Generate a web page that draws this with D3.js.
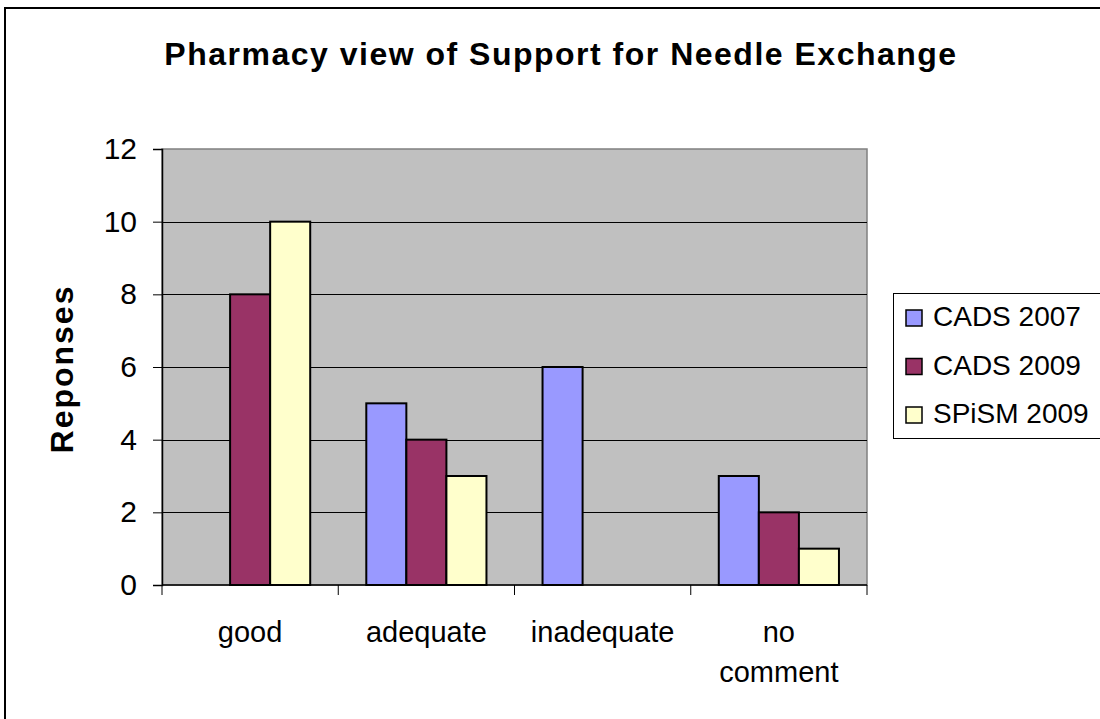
<!DOCTYPE html>
<html>
<head>
<meta charset="utf-8">
<script src="https://cdn.jsdelivr.net/npm/d3@7"></script>
<style>
  html, body { margin: 0; padding: 0; background: #fff; }
  svg { display: block; font-family: "Liberation Sans", Arial, sans-serif; }
</style>
</head>
<body>
<svg id="chart" width="1100" height="719"></svg>
<script>
const categories = ["good", "adequate", "inadequate", "no comment"];
const seriesNames = ["CADS 2007", "CADS 2009", "SPiSM 2009"];
const cads2007 = [0, 5, 6, 3];
const cads2009 = [8, 4, 0, 2];
const spism2009 = [10, 3, 0, 1];
const seriesValues = [cads2007, cads2009, spism2009];
const seriesColors = ["#9999FF", "#993366", "#FFFFCC"];
const yTicks = [0, 2, 4, 6, 8, 10, 12];
const titleText = "Pharmacy view of Support for Needle Exchange";
const yTitle = "Reponses";

const svg = d3.select("#chart");

// outer frame (extends beyond right/bottom edges)
svg.append("rect").attr("x", 5).attr("y", 8).attr("width", 1200).attr("height", 800)
  .attr("fill", "#fff").attr("stroke", "#000").attr("stroke-width", 2);

const plot = { left: 162, top: 149, right: 867, bottom: 585 };

const x = d3.scaleBand().domain(categories).range([plot.left, plot.right]).paddingInner(0).paddingOuter(0);
const inner = d3.scaleBand().domain(seriesNames).range([0, x.bandwidth()]).paddingInner(0).paddingOuter(0.7);
const y = d3.scaleLinear().domain([0, 12]).range([plot.bottom, plot.top]);

// plot background
svg.append("rect").attr("x", plot.left).attr("y", plot.top)
  .attr("width", plot.right - plot.left).attr("height", plot.bottom - plot.top)
  .attr("fill", "#C0C0C0").attr("stroke", "#808080").attr("stroke-width", 1.5);

// gridlines
svg.append("g").selectAll("line").data(yTicks.filter(d => d > 0 && d < 12)).join("line")
  .attr("x1", plot.left).attr("x2", plot.right)
  .attr("y1", d => Math.round(y(d)) + 0.5).attr("y2", d => Math.round(y(d)) + 0.5)
  .attr("stroke", "#000").attr("stroke-width", 1);

// bars
const groups = svg.append("g").selectAll("g").data(seriesNames).join("g");
groups.each(function(s, si) {
  d3.select(this).selectAll("rect").data(seriesValues[si].map((v, i) => ({ v, c: categories[i] })))
    .join("rect")
    .filter(d => d.v > 0)
    .attr("x", d => x(d.c) + inner(s))
    .attr("y", d => y(d.v))
    .attr("width", inner.bandwidth())
    .attr("height", d => y(0) - y(d.v))
    .attr("fill", seriesColors[si])
    .attr("stroke", "#000").attr("stroke-width", 2);
});

// y axis
const yAxis = d3.axisLeft(y).tickValues(yTicks).tickSize(9).tickPadding(16).tickFormat(d3.format("d"));
const gy = svg.append("g").attr("transform", `translate(${plot.left},0)`).call(yAxis);
gy.select(".domain").attr("stroke", "#000").attr("stroke-width", 1.5);
gy.selectAll(".tick line").attr("stroke", "#000");
gy.selectAll(".tick text").attr("font-size", 30).attr("fill", "#000")
  .attr("font-family", "'Liberation Sans', Arial, sans-serif");

// x axis
const gx = svg.append("g").attr("transform", `translate(0,${plot.bottom})`);
gx.append("line").attr("x1", plot.left).attr("x2", plot.right).attr("y1", 0).attr("y2", 0)
  .attr("stroke", "#000").attr("stroke-width", 1.5);
const boundaries = categories.map(c => x(c)).concat([x(categories[categories.length - 1]) + x.bandwidth()]);
gx.selectAll("line.tk").data(boundaries).join("line").attr("class", "tk")
  .attr("x1", d => d).attr("x2", d => d).attr("y1", 0).attr("y2", 10)
  .attr("stroke", "#000").attr("stroke-width", 1);
gx.selectAll("text").data(categories).join("text")
  .attr("x", d => x(d) + x.bandwidth() / 2)
  .attr("y", 57)
  .attr("text-anchor", "middle").attr("font-size", 29).attr("fill", "#000")
  .each(function(d) {
    const words = d === "no comment" ? ["no", "comment"] : [d];
    const t = d3.select(this);
    words.forEach((w, i) => {
      t.append("tspan").attr("x", x(d) + x.bandwidth() / 2).attr("dy", i === 0 ? 0 : 40).text(w);
    });
  });

// title
svg.append("text").attr("x", 561).attr("y", 65).attr("text-anchor", "middle")
  .attr("font-size", 32).attr("font-weight", "bold").attr("letter-spacing", 1.5)
  .attr("fill", "#000").text(titleText);

// y title
svg.append("text").attr("transform", `translate(73,${(plot.top + plot.bottom) / 2 + 2}) rotate(-90)`)
  .attr("text-anchor", "middle").attr("font-size", 32).attr("font-weight", "bold")
  .attr("letter-spacing", 2).attr("fill", "#000")
  .text(yTitle);

// legend
const lg = svg.append("g");
lg.append("rect").attr("x", 893.5).attr("y", 293.5).attr("width", 300).attr("height", 145)
  .attr("fill", "#fff").attr("stroke", "#000").attr("stroke-width", 1);
const items = lg.selectAll("g.item").data(seriesNames).join("g").attr("class", "item")
  .attr("transform", (d, i) => `translate(0,${326 + i * 48.5})`);
items.append("rect").attr("x", 906).attr("y", -16).attr("width", 16).attr("height", 16)
  .attr("fill", (d, i) => seriesColors[i]).attr("stroke", "#000").attr("stroke-width", 1.5);
items.append("text").attr("x", 933).attr("y", 0).attr("font-size", 28).attr("fill", "#000").text(d => d);
</script>
</body>
</html>
